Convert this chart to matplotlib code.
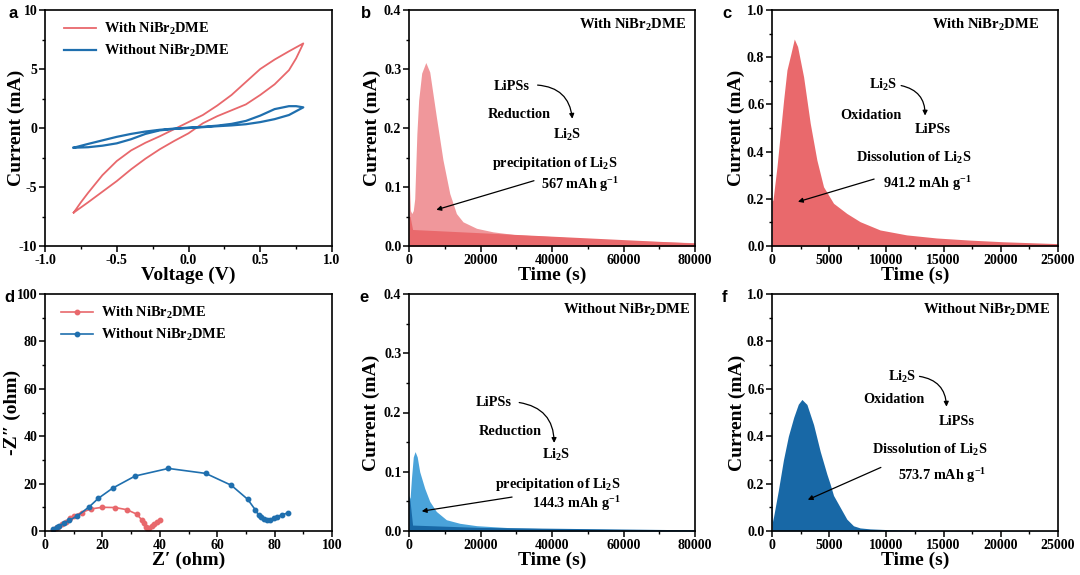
import matplotlib
matplotlib.use("Agg")
import matplotlib.pyplot as plt
import numpy as np
from matplotlib.ticker import MultipleLocator
from matplotlib.patches import FancyArrowPatch

plt.rcParams['font.family'] = ['Liberation Serif', 'DejaVu Serif']
plt.rcParams['font.weight'] = 'bold'
plt.rcParams['axes.labelweight'] = 'bold'
plt.rcParams['axes.unicode_minus'] = False
plt.rcParams['mathtext.fontset'] = 'custom'
plt.rcParams['mathtext.rm'] = 'Liberation Serif:bold'
plt.rcParams['mathtext.bf'] = 'Liberation Serif:bold'
plt.rcParams['mathtext.it'] = 'Liberation Serif:bold:italic'
plt.rcParams['mathtext.default'] = 'rm'

# ---------------- data ----------------
# (a) CV curves
cv_with_v_up = [-0.8, -0.75, -0.7, -0.6, -0.5, -0.4, -0.3, -0.2, -0.1, 0.0, 0.1, 0.2, 0.3,
                0.4, 0.5, 0.6, 0.7, 0.8]
cv_with_i_up = [-7.17, -6.3, -5.5, -4.0, -2.8, -1.9, -1.25, -0.7, -0.1, 0.5, 1.1, 1.9, 2.8,
                3.9, 5.0, 5.8, 6.5, 7.17]
cv_with_v_dn = [0.8, 0.75, 0.7, 0.6, 0.5, 0.4, 0.3, 0.2, 0.1, 0.0, -0.1, -0.2, -0.3, -0.4,
                -0.5, -0.6, -0.7, -0.8]
cv_with_i_dn = [7.17, 5.9, 4.9, 3.7, 2.8, 2.0, 1.5, 1.0, 0.4, -0.45, -1.1, -1.8, -2.6, -3.5,
                -4.5, -5.4, -6.3, -7.17]
cv_wo_v_up = [-0.8, -0.7, -0.6, -0.5, -0.4, -0.3, -0.2, -0.1, 0.0, 0.1, 0.2, 0.3, 0.4, 0.5,
              0.6, 0.7, 0.75, 0.8]
cv_wo_i_up = [-1.67, -1.35, -1.05, -0.75, -0.5, -0.3, -0.15, -0.05, 0.03, 0.1, 0.2, 0.35,
              0.6, 1.05, 1.6, 1.85, 1.85, 1.75]
cv_wo_v_dn = [0.8, 0.7, 0.6, 0.5, 0.4, 0.3, 0.2, 0.1, 0.0, -0.1, -0.2, -0.3, -0.4, -0.5,
              -0.6, -0.7, -0.8]
cv_wo_i_dn = [1.75, 1.1, 0.75, 0.5, 0.32, 0.22, 0.15, 0.07, 0.0, -0.08, -0.2, -0.5, -0.95,
              -1.3, -1.5, -1.63, -1.67]

# (b) potentiostatic discharge, with NiBr2DME
tb = [0, 150, 400, 800, 1200, 1600, 2200, 2700, 3550, 4700, 5800, 7650, 9500, 11400,
      13260, 15100, 18900, 23500, 30000, 40000, 50000, 60000, 70000, 80000]
ib = [0.15, 0.10, 0.06, 0.055, 0.06, 0.08, 0.19, 0.247, 0.293, 0.311, 0.295, 0.219,
      0.146, 0.089, 0.055, 0.041, 0.030, 0.024, 0.019, 0.016, 0.012, 0.009, 0.0075, 0.0056]
tb_base = [0, 300, 1000, 80000]
ib_base = [0.05, 0.05, 0.028, 0.005]

# (c) potentiostatic charge, with NiBr2DME
tc = [0, 87, 436, 1017, 1308, 1657, 1948, 2238, 2762, 3343, 3924, 4506, 5378, 6541,
      7703, 9448, 11773, 14390, 17297, 20200, 25000]
ic = [0.19, 0.195, 0.336, 0.619, 0.746, 0.816, 0.877, 0.845, 0.717, 0.52, 0.364, 0.251,
      0.181, 0.138, 0.103, 0.068, 0.047, 0.034, 0.025, 0.018, 0.01]

# (d) Nyquist plots
zr_with = [2.9, 3.8, 4.7, 5.8, 7.2, 8.7, 10.1, 12.8, 15.9, 20.0, 24.4, 28.5, 32.0, 33.7,
           34.5, 35.2, 35.7, 36.3, 37.2, 38.0, 39.0, 40.1]
zi_with = [0.4, 1.1, 1.8, 3.0, 4.0, 5.4, 6.5, 7.8, 9.3, 10.0, 9.9, 9.0, 7.1, 4.7,
           3.2, 1.8, 1.1, 1.4, 2.3, 3.1, 4.0, 4.8]
zr_wo = [2.9, 4.1, 5.0, 6.5, 8.5, 11.3, 15.5, 18.6, 23.6, 31.4, 43.0, 56.0, 64.9, 70.6,
         73.3, 74.4, 75.2, 76.2, 77.3, 78.5, 79.7, 80.8, 82.6, 84.5]
zi_wo = [0.7, 1.6, 2.3, 3.2, 4.5, 6.4, 10.3, 13.8, 18.1, 23.2, 26.4, 24.3, 19.3, 13.4,
         8.9, 6.8, 5.8, 5.1, 4.7, 4.8, 5.4, 6.1, 6.8, 7.6]

# (e) potentiostatic discharge, without NiBr2DME
te = [0, 300, 700, 1200, 1700, 2300, 3000, 4400, 5800, 7650, 10460, 14200, 18900,
      28200, 42200, 60000, 80000]
ie = [0.06, 0.055, 0.09, 0.125, 0.134, 0.125, 0.10, 0.072, 0.05, 0.033, 0.019, 0.013,
      0.009, 0.0056, 0.0034, 0.0025, 0.002]
te_base = [0, 300, 1000, 20000, 80000]
ie_base = [0.06, 0.05, 0.01, 0.006, 0.002]

# (f) potentiostatic charge, without NiBr2DME
tf = [0, 30, 60, 550, 1000, 1430, 1900, 2300, 2616, 3052, 3634, 4215, 4797, 5070, 5378,
      5959, 6541, 7122, 7700, 8576, 10029, 12900, 25000]
if_ = [0.23, 0.1, 0.04, 0.17, 0.30, 0.40, 0.48, 0.535, 0.555, 0.534, 0.449, 0.336,
       0.24, 0.2, 0.15, 0.1, 0.05, 0.022, 0.013, 0.009, 0.006, 0.003, 0.001]

# ---------------- style ----------------
RED = '#E8686C'
RED_LIGHT = '#F0979B'
RED_FILL = '#E9696C'
BLUE = '#1F6FAE'
BLUE_LIGHT = '#4AA3DA'
BLUE_DARK = '#1868A6'

TICK_FS = 10
LABEL_FS = 14
ANN_FS = 10.3

fig = plt.figure(figsize=(10.8, 5.75), dpi=100)
W, H = 1080, 575

def make_ax(l, r, t, b):
    return fig.add_axes([l / W, 1 - b / H, (r - l) / W, (b - t) / H])

ax_a = make_ax(45, 332, 10, 246)
ax_b = make_ax(409, 695, 10, 246)
ax_c = make_ax(772, 1058, 10, 246)
ax_d = make_ax(45, 332, 294, 531)
ax_e = make_ax(409, 695, 294, 531)
ax_f = make_ax(772, 1058, 294, 531)

def style(ax, xmaj, xmin, ymaj, ymin, xlabel, ylabel, ylx):
    ax.xaxis.set_major_locator(MultipleLocator(xmaj))
    ax.xaxis.set_minor_locator(MultipleLocator(xmin))
    ax.yaxis.set_major_locator(MultipleLocator(ymaj))
    ax.yaxis.set_minor_locator(MultipleLocator(ymin))
    ax.tick_params(which='major', direction='out', length=4, width=1.1,
                   labelsize=TICK_FS, pad=1.5)
    ax.tick_params(which='minor', direction='out', length=2, width=1.0)
    for lab in ax.get_xticklabels() + ax.get_yticklabels():
        lab.set_fontweight('bold')
    for s in ax.spines.values():
        s.set_linewidth(1.2)
    ax.set_xlabel(xlabel, fontsize=LABEL_FS, fontweight='bold')
    ax.set_ylabel(ylabel, fontsize=LABEL_FS, fontweight='bold')
    ax.xaxis.label.set_va('center')
    ax.yaxis.label.set_va('center')
    ax.xaxis.set_label_coords(0.5, -0.123)
    ax.yaxis.set_label_coords(ylx, 0.5)

NB = r'NiBr$_{2}$DME'

# (a)
ax_a.plot(cv_with_v_up + cv_with_v_dn, cv_with_i_up + cv_with_i_dn, color=RED, lw=1.3,
          label='With ' + NB)
ax_a.plot(cv_wo_v_up + cv_wo_v_dn, cv_wo_i_up + cv_wo_i_dn, color=BLUE, lw=1.6,
          label='Without ' + NB)
ax_a.set_xlim(-1, 1)
ax_a.set_ylim(-10, 10)
style(ax_a, 0.5, 0.25, 5, 2.5, 'Voltage (V)', 'Current (mA)', -0.10)
ax_a.legend(loc='upper left', bbox_to_anchor=(0.02, 1.01), frameon=False,
            prop={'family': 'Liberation Serif', 'weight': 'bold', 'size': 10.4},
            handlelength=2.2, labelspacing=0.45, handletextpad=0.6)

def arrow(ax, start, end, rad=0.0):
    p = FancyArrowPatch(start, end, connectionstyle=f'arc3,rad={rad}',
                        arrowstyle='-|>', mutation_scale=7, lw=0.9, color='black')
    ax.add_patch(p)

def txt(ax, x, y, s, **kw):
    ax.text(x, y, s, ha='center', va='center', fontsize=ANN_FS, fontweight='bold', **kw)

def corner(ax, x, y, s):
    ax.text(x, y, s, transform=ax.transAxes, ha='center', va='center',
            fontsize=10.5, fontweight='bold')

# (b)
ax_b.fill_between(tb, 0, ib, color=RED_LIGHT, lw=0)
ax_b.fill_between(tb_base, 0, ib_base, color=RED_FILL, lw=0)
ax_b.set_xlim(0, 80000)
ax_b.set_ylim(0, 0.4)
style(ax_b, 20000, 10000, 0.1, 0.05, 'Time (s)', 'Current (mA)', -0.129)
corner(ax_b, 0.78, 0.936, 'With ' + NB)
txt(ax_b, 28700, 0.271, 'LiPSs')
txt(ax_b, 30800, 0.223, 'Reduction')
txt(ax_b, 44300, 0.188, r'Li$_{2}$S')
arrow(ax_b, (35200, 0.273), (45750, 0.211), rad=-0.45)
txt(ax_b, 40800, 0.140, r'precipitation of Li$_{2}$S')
txt(ax_b, 47800, 0.105, r'567 mAh g$^{-1}$')
arrow(ax_b, (35700, 0.112), (6900, 0.060))

# (c)
ax_c.fill_between(tc, 0, ic, color=RED_FILL, lw=0)
ax_c.set_xlim(0, 25000)
ax_c.set_ylim(0, 1.0)
style(ax_c, 5000, 2500, 0.2, 0.1, 'Time (s)', 'Current (mA)', -0.126)
corner(ax_c, 0.745, 0.936, 'With ' + NB)
txt(ax_c, 9740, 0.682, r'Li$_{2}$S')
arrow(ax_c, (11050, 0.682), (13370, 0.541), rad=-0.45)
txt(ax_c, 8630, 0.555, 'Oxidation')
txt(ax_c, 14010, 0.492, 'LiPSs')
txt(ax_c, 12350, 0.371, r'Dissolution of Li$_{2}$S')
txt(ax_c, 13580, 0.266, r'941.2 mAh g$^{-1}$')
arrow(ax_c, (9160, 0.287), (2035, 0.184))

# (d)
ax_d.plot(zr_with, zi_with, '-o', color=RED, ms=3.2, lw=1.2, label='With ' + NB)
ax_d.plot(zr_wo, zi_wo, '-o', color=BLUE, ms=3.2, lw=1.2, label='Without ' + NB)
ax_d.set_xlim(0, 100)
ax_d.set_ylim(0, 100)
style(ax_d, 20, 10, 20, 10, 'Z\u2032 (ohm)', '-Z\u2033 (ohm)', -0.115)
ax_d.legend(loc='upper left', bbox_to_anchor=(0.01, 1.01), frameon=False,
            prop={'family': 'Liberation Serif', 'weight': 'bold', 'size': 10.4},
            handlelength=2.2, labelspacing=0.45, handletextpad=0.6)

# (e)
ax_e.fill_between(te, 0, ie, color=BLUE_LIGHT, lw=0)
ax_e.fill_between(te_base, 0, ie_base, color=BLUE_DARK, lw=0)
ax_e.set_xlim(0, 80000)
ax_e.set_ylim(0, 0.4)
style(ax_e, 20000, 10000, 0.1, 0.05, 'Time (s)', 'Current (mA)', -0.133)
corner(ax_e, 0.762, 0.932, 'Without ' + NB)
txt(ax_e, 23800, 0.2175, 'LiPSs')
arrow(ax_e, (30060, 0.2175), (40600, 0.144), rad=-0.45)
txt(ax_e, 28200, 0.168, 'Reduction')
txt(ax_e, 41270, 0.128, r'Li$_{2}$S')
txt(ax_e, 41700, 0.079, r'precipitation of Li$_{2}$S')
txt(ax_e, 46900, 0.0456, r'144.3 mAh g$^{-1}$')
arrow(ax_e, (29600, 0.058), (2800, 0.0327))

# (f)
ax_f.fill_between(tf, 0, if_, color=BLUE_DARK, lw=0)
ax_f.set_xlim(0, 25000)
ax_f.set_ylim(0, 1.0)
style(ax_f, 5000, 2500, 0.2, 0.1, 'Time (s)', 'Current (mA)', -0.122)
corner(ax_f, 0.752, 0.932, 'Without ' + NB)
txt(ax_f, 11340, 0.65, r'Li$_{2}$S')
arrow(ax_f, (12650, 0.654), (15260, 0.513), rad=-0.45)
txt(ax_f, 10610, 0.555, 'Oxidation')
txt(ax_f, 16130, 0.463, 'LiPSs')
txt(ax_f, 13810, 0.34, r'Dissolution of Li$_{2}$S')
txt(ax_f, 14830, 0.234, r'573.7 mAh g$^{-1}$')
arrow(ax_f, (9740, 0.273), (2907, 0.127))

# panel letters
for letter, x, y in [('a', 13, 13), ('b', 366, 13), ('c', 727, 13),
                     ('d', 9, 297), ('e', 364, 297), ('f', 725, 297)]:
    fig.text(x / W, 1 - y / H, letter, ha='center', va='center', fontsize=12,
             fontweight='bold', family='Liberation Sans')

fig.savefig('out.png', dpi=100)
